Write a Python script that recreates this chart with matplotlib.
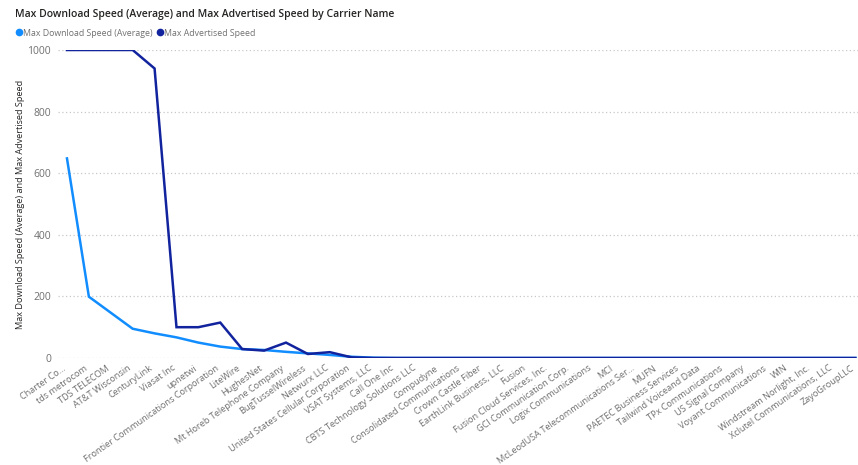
import numpy as np
import matplotlib.pyplot as plt
import matplotlib.transforms as mtransforms
from matplotlib.lines import Line2D

carriers = ["Charter Co...", "tds metrocom", "TDS TELECOM", "AT&T Wisconsin", "CenturyLink",
            "Viasat Inc", "upnetwi", "Frontier Communications Corporation", "LiteWire",
            "HughesNet", "Mt Horeb Telephone Company", "BugTusselWireless", "Netwurx LLC",
            "United States Cellular Corporation", "VSAT Systems, LLC", "Call One Inc",
            "CBTS Technology Solutions LLC", "Compudyne", "Consolidated Communications",
            "Crown Castle Fiber", "EarthLink Business, LLC", "Fusion",
            "Fusion Cloud Services, Inc.", "GCI Communication Corp.", "Logix Communications",
            "MCI", "McLeodUSA Telecommunications Ser...", "MUFN", "PAETEC Business Services",
            "Tailwind Voiceand Data", "TPx Communications", "US Signal Company",
            "Voyant Communications", "WIN", "Windstream Norlight, Inc.",
            "Xclutel Communications, LLC", "ZayoGroupLLC"]

download_avg = [648, 199, 147, 95, 80, 67, 50, 37, 29, 26, 20, 15, 10, 4, 1,
                0, 0, 0, 0, 0, 0, 0, 0, 0, 0, 0, 0, 0, 0, 0, 0, 0, 0, 0, 0, 0, 0]
advertised = [1000, 1000, 1000, 1000, 940, 100, 100, 115, 29, 24, 50, 13, 19, 2, 0,
              0, 0, 0, 0, 0, 0, 0, 0, 0, 0, 0, 0, 0, 0, 0, 0, 0, 0, 0, 0, 0, 0]

c_light = "#118DFF"
c_dark = "#12239E"
grey = "#707070"

plt.rcParams['font.family'] = ['Open Sans', 'DejaVu Sans']

fig = plt.figure(figsize=(8.58, 4.65), dpi=100)
ax = fig.add_axes([58 / 858, 1 - 358 / 465, 800 / 858, 308 / 465])

x = np.arange(len(carriers))
ax.plot(x, download_avg, color=c_light, linewidth=1.8, solid_joinstyle="miter")
ax.plot(x, advertised, color=c_dark, linewidth=1.8, solid_joinstyle="miter")

ax.set_xlim(-0.41, 36.12)
ax.set_ylim(0, 1000)
ax.set_yticks([0, 200, 400, 600, 800, 1000])
ax.grid(axis="y", color="#c8c8c8", linestyle=(0, (1, 2)), linewidth=0.9)
ax.set_axisbelow(True)
for s in ax.spines.values():
    s.set_visible(False)
ax.tick_params(axis="both", length=0, colors=grey, labelsize=7.5)
ax.tick_params(axis="y", pad=5)
ax.set_xticks(x)
ax.set_xticklabels(carriers, rotation=35, ha="right", rotation_mode="anchor", fontsize=6.6)
ax.tick_params(axis="x", pad=4)
# shift the rotated labels a little to the left, like the original
shift = mtransforms.ScaledTranslation(-5 / 100, 0, fig.dpi_scale_trans)
for lbl in ax.get_xticklabels():
    lbl.set_transform(lbl.get_transform() + shift)

ax.set_ylabel("Max Download Speed (Average) and Max Advertised Speed",
              fontsize=6.6, color="#252423")
ax.yaxis.set_label_coords(-33 / 800, 0.5)

fig.text(15 / 858, 1 - 14 / 465, "Max Download Speed (Average) and Max Advertised Speed by Carrier Name",
         fontsize=7.5, color="#252423", fontweight="semibold", va="center", ha="left")

handles = [Line2D([], [], marker="o", color=c_light, linestyle="none", markersize=4.5),
           Line2D([], [], marker="o", color=c_dark, linestyle="none", markersize=4.5)]
fig.legend(handles, ["Max Download Speed (Average)", "Max Advertised Speed"],
           loc="center left", bbox_to_anchor=(11 / 858, 1 - 33 / 465), ncol=2, frameon=False,
           fontsize=6.3, labelcolor=grey, handletextpad=0.0, columnspacing=0.3,
           handlelength=1.0, borderaxespad=0)

fig.savefig("out.png", dpi=100)
